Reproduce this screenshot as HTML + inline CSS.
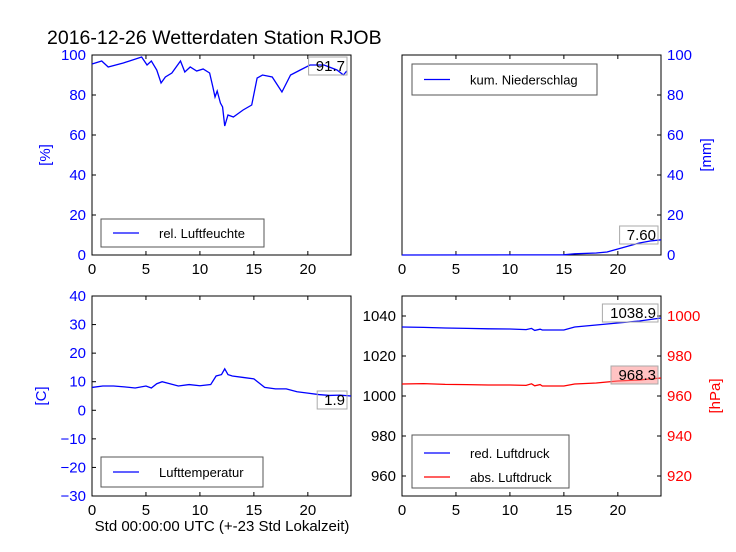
<!DOCTYPE html>
<html><head><meta charset="utf-8"><style>
body{margin:0;background:#fff;}
svg{font-family:"Liberation Sans",sans-serif;display:block}
</style></head><body>
<svg id="c" width="736" height="552" viewBox="0 0 736 552" xmlns="http://www.w3.org/2000/svg">
<rect width="736" height="552" fill="#fff"/>
<text x="47" y="44" font-size="19.5">2016-12-26 Wetterdaten Station RJOB</text>
<text x="222" y="531" font-size="15" text-anchor="middle">Std 00:00:00 UTC (+-23 Std Lokalzeit)</text>
<g id="g"></g>
</svg>
<script>
const humH=[0,0.9,1.5,2.9,4.6,5.1,5.5,6,6.4,6.8,7.4,8.2,8.6,9.1,9.7,10.3,10.9,11.2,11.4,11.6,11.9,12.1,12.3,12.6,13.1,14,14.8,15.3,15.8,16.7,17.6,18.4,19.3,20.2,21.5,22.7,23.3,23.6];
const humV=[95.5,97,94,96,99,95,97,92.5,86,89,91,97,91.5,94,92,93,91,84,79,82,76,74,64.5,70,69,72.5,75,88.5,90,89,81.5,90,92.5,95,95,92.5,90,92];
const rainH=[0,15,16,18,19,20,21,22,23,24];
const rainV=[0,0.1,0.6,1,1.5,3,4.5,6,7,7.6];
const tempH=[0,1,2,3,4,5,5.5,6,6.5,7,8,9,10,11,11.5,12,12.3,12.6,13,14,15,15.5,16,17,18,19,20,21,22,23,24];
const tempV=[8,8.5,8.5,8.2,7.8,8.5,7.8,9.3,10,9.5,8.5,9,8.6,9,12,12.5,14.5,12.5,12,11.5,11,9.5,8,7.5,7.5,6.5,6,5.5,5.2,5.3,5];
const presH=[0,2,4,6,8,10,11.5,12,12.3,12.8,13,15,16,18,20,22,24];
const redV=[1034.5,1034.3,1034,1033.8,1033.6,1033.5,1033.2,1033.8,1032.8,1033.4,1033,1033,1034.5,1035.5,1036.5,1037.5,1039];
const absV=[966,966.2,965.8,965.7,965.5,965.5,965.3,966.1,965.1,965.7,965,965,966,966.5,967.5,968,969];
const xTicks=[0,5,10,15,20];
const humTicks=[0,20,40,60,80,100];
const tempTicks=[-30,-20,-10,0,10,20,30,40];
const redTicks=[960,980,1000,1020,1040];
const absTicks=[920,940,960,980,1000];

const NS="http://www.w3.org/2000/svg",G=document.getElementById('g');
function el(t,a,p){const e=document.createElementNS(NS,t);for(const k in a)e.setAttribute(k,a[k]);(p||G).appendChild(e);return e;}
function panel(x0,y0,name){const w=259,h=200;
 const g=el('g',{});
 return {g,x:v=>x0+v/24*w,x0,y0,w,h};}
function ax(P,min,max){return v=>P.y0+P.h-(v-min)/(max-min)*P.h;}
function frame(P){const r=el('rect',{x:P.x0,y:P.y0,width:P.w,height:P.h,fill:'none',stroke:'#000','stroke-width':1},P.g);
 
 xTicks.forEach(t=>{const X=P.x(t);el('line',{x1:X,x2:X,y1:P.y0+P.h,y2:P.y0+P.h-4,stroke:'#000'},P.g);el('line',{x1:X,x2:X,y1:P.y0,y2:P.y0+4,stroke:'#000'},P.g);
  const tx=el('text',{x:X,y:P.y0+P.h+19,'font-size':15,'text-anchor':'middle'},P.g);tx.textContent=t;
  });}
function yt(P,ticks,Y,side,color){ticks.forEach(t=>{const yy=Y(t);
 const xa=side=='l'?P.x0:P.x0+P.w,d=side=='l'?4:-4;el('line',{x1:xa,x2:xa+d,y1:yy,y2:yy,stroke:'#000'},P.g);
 const tx=el('text',{x:side=='l'?P.x0-6:P.x0+P.w+6,y:yy+5,'font-size':15,fill:color,'text-anchor':side=='l'?'end':'start'},P.g);tx.textContent=String(t).replace('-','\u2212');
 });}
function line(P,xs,vs,Y,c,name){const p=el('polyline',{points:xs.map((h,i)=>P.x(h)+','+Y(vs[i])).join(' '),fill:'none',stroke:c,'stroke-width':1.3},P.g);
 }
function label(x,y,t,c){const tx=el('text',{x,y,'font-size':15,fill:c,'text-anchor':'middle',transform:`rotate(-90 ${x} ${y})`});tx.textContent=t;
 }
function ann(xr,y,t,bg){const w=t.length*8.6+4;el('rect',{x:xr-w,y:y-14,width:w,height:18,fill:bg,'fill-opacity':bg=='none'?0:0.5,stroke:'#aaa'});
 const tx=el('text',{x:xr-2,y:y,'font-size':15,'text-anchor':'end'});tx.textContent=t;
 }
function legend(x,y,w,h,items){const g=el('g',{});
 el('rect',{x,y,width:w,height:h,fill:'#fff',stroke:'#555'},g);
 items.forEach((it,i)=>{const yy=y+(items.length==1?h/2:18+i*24);el('line',{x1:x+12,x2:x+38,y1:yy,y2:yy,stroke:it[1],'stroke-width':1.3},g);
  const t=el('text',{x:x+58,y:yy+5,'font-size':13},g);t.textContent=it[0];
  });}

let P=panel(92,55,'humidity-panel');let Y=ax(P,0,100);frame(P);yt(P,humTicks,Y,'l','#00f');
ann(347,71,'91.7','none');line(P,humH,humV,Y,'#00f','humidity-line');label(50,155,'[%]','#00f');
legend(101,219,163,28,[['rel. Luftfeuchte','#00f']]);
P=panel(402,55,'rain-panel');Y=ax(P,0,100);frame(P);yt(P,humTicks,Y,'r','#00f');
ann(658,240,'7.60','none');line(P,rainH,rainV,Y,'#00f','rain-line');label(711,155,'[mm]','#00f');
legend(412,64,185,31,[['kum. Niederschlag','#00f']]);
P=panel(92,296,'temperature-panel');Y=ax(P,-30,40);frame(P);yt(P,tempTicks,Y,'l','#00f');
ann(347,405,'1.9','none');line(P,tempH,tempV,Y,'#00f','temperature-line');label(46,396,'[C]','#00f');
legend(101,457,162,30,[['Lufttemperatur','#00f']]);
P=panel(402,296,'pressure-panel');Y=ax(P,950,1050);let Y2=ax(P,910,1010);
ann(658,318,'1038.9','none');ann(658,380,'968.3','#f88');frame(P);
yt(P,redTicks,Y,'l','#000');yt(P,absTicks,Y2,'r','#f00');
line(P,presH,redV,Y,'#00f','red-pressure-line');line(P,presH,absV,Y2,'#f00','abs-pressure-line');
label(720,396,'[hPa]','#f00');
legend(412,435,157,53,[['red. Luftdruck','#00f'],['abs. Luftdruck','#f00']]);
</script>
</body></html>
